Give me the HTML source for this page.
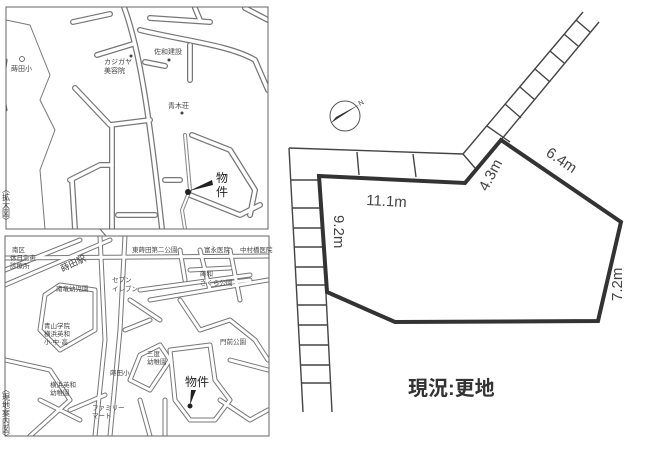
<!DOCTYPE html>
<html><head><meta charset="utf-8"><style>
body{margin:0;background:#fff;width:651px;height:451px;overflow:hidden}
svg{display:block}
text{font-family:"Liberation Sans","Noto Sans CJK JP",sans-serif}
</style></head><body>
<svg width="651" height="451" viewBox="0 0 651 451" xmlns="http://www.w3.org/2000/svg">
<defs>
<clipPath id="c1"><rect x="6" y="7" width="262" height="222"/></clipPath>
<clipPath id="c2"><rect x="5" y="236" width="264" height="200"/></clipPath>
</defs>
<!-- top map -->
<g clip-path="url(#c1)" fill="none" stroke-linecap="round" stroke-linejoin="round">
<g stroke="#777" stroke-width="6">
<path d="M124 7 C140 50 150 120 162 229"/>
<path d="M73 22 L110 14"/><path d="M97 55 L133 44"/><path d="M145 62 L165 66"/>
<path d="M140 30 C180 40 230 45 255 60 L268 90"/>
<path d="M190 45 L190 80"/><path d="M150 18 L210 22"/><path d="M195 8 L200 20"/><path d="M245 8 L268 20"/>
<path d="M75 88 L110 125 L150 120"/><path d="M112 125 L112 229"/>
<path d="M70 180 L100 165 L112 165"/><path d="M72 180 L75 229"/>
<path d="M118 215 L155 215"/>
<path d="M190 195 L240 215 L260 205"/>
<path d="M165 180 L180 180"/>
<path d="M192 135 L230 150 L255 190 L250 215"/>
</g>
<g stroke="#fff" stroke-width="3.5">
<path d="M124 7 C140 50 150 120 162 229"/>
<path d="M73 22 L110 14"/><path d="M97 55 L133 44"/><path d="M145 62 L165 66"/>
<path d="M140 30 C180 40 230 45 255 60 L268 90"/>
<path d="M190 45 L190 80"/><path d="M150 18 L210 22"/><path d="M195 8 L200 20"/><path d="M245 8 L268 20"/>
<path d="M75 88 L110 125 L150 120"/><path d="M112 125 L112 229"/>
<path d="M70 180 L100 165 L112 165"/><path d="M72 180 L75 229"/>
<path d="M118 215 L155 215"/>
<path d="M190 195 L240 215 L260 205"/>
<path d="M165 180 L180 180"/>
<path d="M192 135 L230 150 L255 190 L250 215"/>
</g>
<path d="M6 20 L30 25 L50 75 L40 100 L55 130 L40 170 L45 229" stroke="#777" stroke-width="1"/>
<path d="M185 135 L190 190 L182 210 L185 229" stroke="#888" stroke-width="4"/>
<path d="M185 135 L190 190 L182 210 L185 229" stroke="#fff" stroke-width="2" stroke-dasharray="1.5 1"/>
<path d="M6 60 Q2 90 6 110" stroke="#555" stroke-width="3"/>
</g>
<rect x="6" y="7" width="262" height="222" fill="none" stroke="#666" stroke-width="1"/>
<g font-size="7" fill="#444">
<circle cx="22" cy="59" r="2.5" fill="none" stroke="#444" stroke-width="0.7"/>
<text x="11" y="71">蒔田小</text>
<circle cx="131" cy="56" r="1.5"/><text x="104" y="64">カジガヤ</text><text x="104" y="73">美容院</text>
<text x="154" y="54">佐和建設</text><circle cx="169" cy="60" r="1.5"/>
<text x="168" y="108">青木荘</text><circle cx="182" cy="113" r="1.5"/>
</g>
<circle cx="188" cy="192" r="3" fill="#222"/>
<path d="M189 191 L212 180 L213 185 Z" fill="#222"/>
<text x="216" y="182" font-size="12" fill="#222">物</text>
<text x="216" y="196" font-size="12" fill="#222">件</text>
<text x="6" y="185" font-size="8" fill="#444" writing-mode="tb">〈拡大図〉</text>

<!-- bottom map -->
<g clip-path="url(#c2)" fill="none" stroke-linecap="round" stroke-linejoin="round">
<g stroke="#777" stroke-width="5">
<path d="M5 285 L110 240"/><path d="M5 270 L80 240"/>
<path d="M5 258 L268 256"/>
<path d="M100 236 L105 340 L95 436"/><path d="M125 236 L120 330 L110 436"/>
<path d="M140 290 L250 275"/><path d="M150 300 L268 280"/>
<path d="M60 285 L95 290 L95 330 L60 350 L40 330 L45 295 Z"/>
<path d="M5 360 L50 370 L70 400 L30 436"/>
<path d="M70 410 L105 395"/>
<path d="M140 355 L160 345 L170 360 L150 390 L130 380 Z"/>
<path d="M170 350 L210 345 L215 380 L230 400 L215 420 L190 420 L175 400 Z"/>
<path d="M180 300 L200 330 L230 320 L255 340 L268 360"/>
<path d="M230 360 L268 370"/><path d="M220 400 L250 420 L268 410"/>
<path d="M165 400 L165 436"/><path d="M140 400 L150 436"/>
<path d="M200 250 L210 290"/><path d="M230 250 L240 300"/><path d="M180 250 L185 280"/>
<path d="M190 270 L230 268"/><path d="M210 285 L250 280"/>
<path d="M130 300 L160 320"/><path d="M125 330 L150 320"/>
<path d="M40 400 L80 420"/>
</g>
<g stroke="#fff" stroke-width="3">
<path d="M5 285 L110 240"/><path d="M5 270 L80 240"/>
<path d="M5 258 L268 256"/>
<path d="M100 236 L105 340 L95 436"/><path d="M125 236 L120 330 L110 436"/>
<path d="M140 290 L250 275"/><path d="M150 300 L268 280"/>
<path d="M60 285 L95 290 L95 330 L60 350 L40 330 L45 295 Z"/>
<path d="M5 360 L50 370 L70 400 L30 436"/>
<path d="M70 410 L105 395"/>
<path d="M140 355 L160 345 L170 360 L150 390 L130 380 Z"/>
<path d="M170 350 L210 345 L215 380 L230 400 L215 420 L190 420 L175 400 Z"/>
<path d="M180 300 L200 330 L230 320 L255 340 L268 360"/>
<path d="M230 360 L268 370"/><path d="M220 400 L250 420 L268 410"/>
<path d="M165 400 L165 436"/><path d="M140 400 L150 436"/>
<path d="M200 250 L210 290"/><path d="M230 250 L240 300"/><path d="M180 250 L185 280"/>
<path d="M190 270 L230 268"/><path d="M210 285 L250 280"/>
<path d="M130 300 L160 320"/><path d="M125 330 L150 320"/>
<path d="M40 400 L80 420"/>
</g>
</g>
<rect x="5" y="236" width="264" height="200" fill="none" stroke="#666" stroke-width="1"/>
<path d="M100 229 L106 236" stroke="#666" fill="none"/>
<g font-size="6.5" fill="#444">
<text x="12" y="252">南区</text><text x="10" y="260">休日急患</text><text x="10" y="268">診療所</text>
<text x="60" y="268" transform="rotate(-25 70 265)" font-size="9">蒔田駅</text>
<text x="132" y="252">東蒔田第二公園</text><text x="204" y="252">富永医院</text><text x="240" y="252">中村橋医院</text>
<text x="112" y="282">セブン</text><text x="112" y="291">イレブン</text>
<text x="56" y="291">南竜幼児園</text>
<text x="200" y="276">蒔和</text><text x="200" y="285">さくら公園</text>
<text x="44" y="328">青山学院</text><text x="44" y="336">横浜英和</text><text x="44" y="344">小·中·高</text>
<text x="220" y="344">門前公園</text>
<text x="147" y="356">三度</text><text x="147" y="364">幼稚園</text>
<text x="110" y="375">蒔田小</text>
<text x="50" y="387">横浜英和</text><text x="50" y="395">幼稚園</text>
<text x="92" y="410">ファミリー</text><text x="92" y="418">マート</text>
</g>
<text x="185" y="386" font-size="12" fill="#222">物件</text>
<path d="M191 390 L196 390 L190 405 Z" fill="#222"/><circle cx="190" cy="406" r="2.5" fill="#222"/>
<text x="6" y="385" font-size="8" fill="#444" writing-mode="tb">〈現地案内図〉</text>

<!-- right diagram -->
<g stroke="#444" stroke-width="1.4" fill="none">
<path d="M289 148 L463 154"/>
<path d="M289 148 L303 412"/>
<path d="M320 176 L332 412"/>
<path d="M463 154 L583 12"/>
<path d="M501 140 L599 22"/>
<path d="M463 154 L475 168"/>
<path d="M357 152 L359 175 M413 154 L416 177"/>
<path d="M291 180 L320 180 M292 208 L321 208 M293 228 L322 228 M294 247 L323 247 M295 267 L324 267 M296 285 L325 285 M297 305 L326 305 M298 325 L327 325 M299 345 L328 345 M300 365 L329 365 M301 383 L330 383"/>
<path d="M487 126 L510 142 M505 104 L521 118 M520 87 L535 100 M535 69 L550 82 M550 51 L564 63 M564 34 L578 46 M576 20 L590 32"/>
</g>
<path d="M319 176 L465 183 L501 140 L621 222 L598 321 L395 322 L327 292 Z" fill="none" stroke="#333" stroke-width="4" stroke-linejoin="miter"/>
<g font-size="15" fill="#444" font-family="Liberation Sans,sans-serif">
<text x="366" y="205" transform="rotate(3 366 205)">11.1m</text>
<text x="0" y="0" transform="translate(487 192) rotate(-62)">4.3m</text>
<text x="0" y="0" transform="translate(545 155) rotate(34)">6.4m</text>
<text x="0" y="0" transform="translate(334 215) rotate(90)">9.2m</text>
<text x="0" y="0" transform="translate(622 301) rotate(-90)">7.2m</text>
</g>
<text x="408" y="395" font-size="20" font-weight="bold" fill="#333">現況:更地</text>
<circle cx="345" cy="116" r="15" fill="none" stroke="#555" stroke-width="1"/>
<path d="M331 123 L360 104 L336 117 Z" fill="#333"/>
<text x="360" y="106" font-size="7" fill="#444" transform="rotate(-30 360 106)">N</text>
</svg>
</body></html>
